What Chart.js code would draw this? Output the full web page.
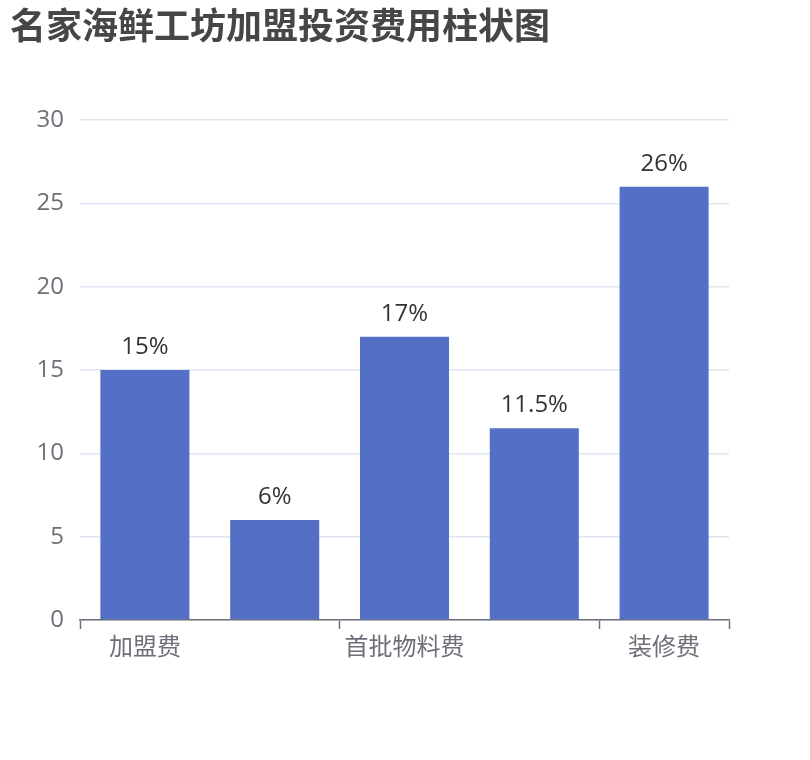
<!DOCTYPE html>
<html>
<head>
<meta charset="utf-8">
<script src="https://cdn.jsdelivr.net/npm/chart.js@4.4.1/dist/chart.umd.min.js"></script>
<style>
  html, body { margin: 0; padding: 0; background: #ffffff; }
  #c { display: block; }
</style>
</head>
<body>
<canvas id="c" width="810" height="760"></canvas>
<script>
const chartTitle = '名家海鲜工坊加盟投资费用柱状图';
const categories = ['加盟费', '保证金', '首批物料费', '设备费', '装修费'];
const values = [15, 6, 17, 11.5, 26];
const yTicks = [0, 5, 10, 15, 20, 25, 30];

const FONT = "'Open Sans', 'Noto Sans CJK SC', sans-serif";
const AXIS = '#6E7079';

const barLabels = {
  id: 'barLabels',
  afterDatasetsDraw(chart) {
    const ctx = chart.ctx;
    const meta = chart.getDatasetMeta(0);
    ctx.save();
    ctx.font = '24px ' + FONT;
    ctx.fillStyle = '#333333';
    ctx.textAlign = 'center';
    ctx.textBaseline = 'alphabetic';
    meta.data.forEach((bar, i) => {
      ctx.fillText(values[i] + '%', bar.x, bar.y - 16);
    });
    ctx.restore();
  }
};

new Chart(document.getElementById('c'), {
  type: 'bar',
  data: {
    labels: categories,
    datasets: [{
      data: values,
      backgroundColor: '#5470C6',
      borderWidth: 0,
      barPercentage: 0.686,
      categoryPercentage: 1.0
    }]
  },
  options: {
    responsive: false,
    animation: false,
    devicePixelRatio: 1,
    layout: { padding: { left: 10, right: 81, top: 0, bottom: 0 } },
    plugins: {
      legend: { display: false },
      tooltip: { enabled: false },
      title: {
        display: true,
        text: chartTitle,
        align: 'start',
        color: '#464646',
        font: { size: 36, weight: 'bold', family: "'Noto Sans CJK SC', sans-serif" },
        padding: { top: 4, bottom: 72.8 }
      }
    },
    scales: {
      x: {
        type: 'category',
        offset: true,
        afterFit(scale) { scale.height = 140; },
        border: { display: true, color: AXIS, width: 1.5 },
        grid: {
          offset: true,
          drawOnChartArea: false,
          drawTicks: true,
          tickLength: 9,
          tickWidth: 1.5,
          color: (c) => (c.index === undefined || c.index % 2 === 0) ? AXIS : 'rgba(0,0,0,0)'
        },
        ticks: {
          autoSkip: false,
          maxRotation: 0,
          padding: 5,
          color: AXIS,
          font: { size: 24, family: FONT },
          callback: (v, i) => (i % 2 === 0 ? categories[i] : '')
        }
      },
      y: {
        min: yTicks[0],
        max: yTicks[yTicks.length - 1],
        afterFit(scale) { scale.width = 70; },
        afterBuildTicks(scale) { scale.ticks = yTicks.map(v => ({ value: v })); },
        border: { display: false },
        grid: { color: '#E0E6F1', drawTicks: false, lineWidth: 1.5 },
        ticks: {
          padding: 16,
          color: AXIS,
          font: { size: 24, family: FONT }
        }
      }
    }
  },
  plugins: [barLabels]
});
</script>
</body>
</html>
